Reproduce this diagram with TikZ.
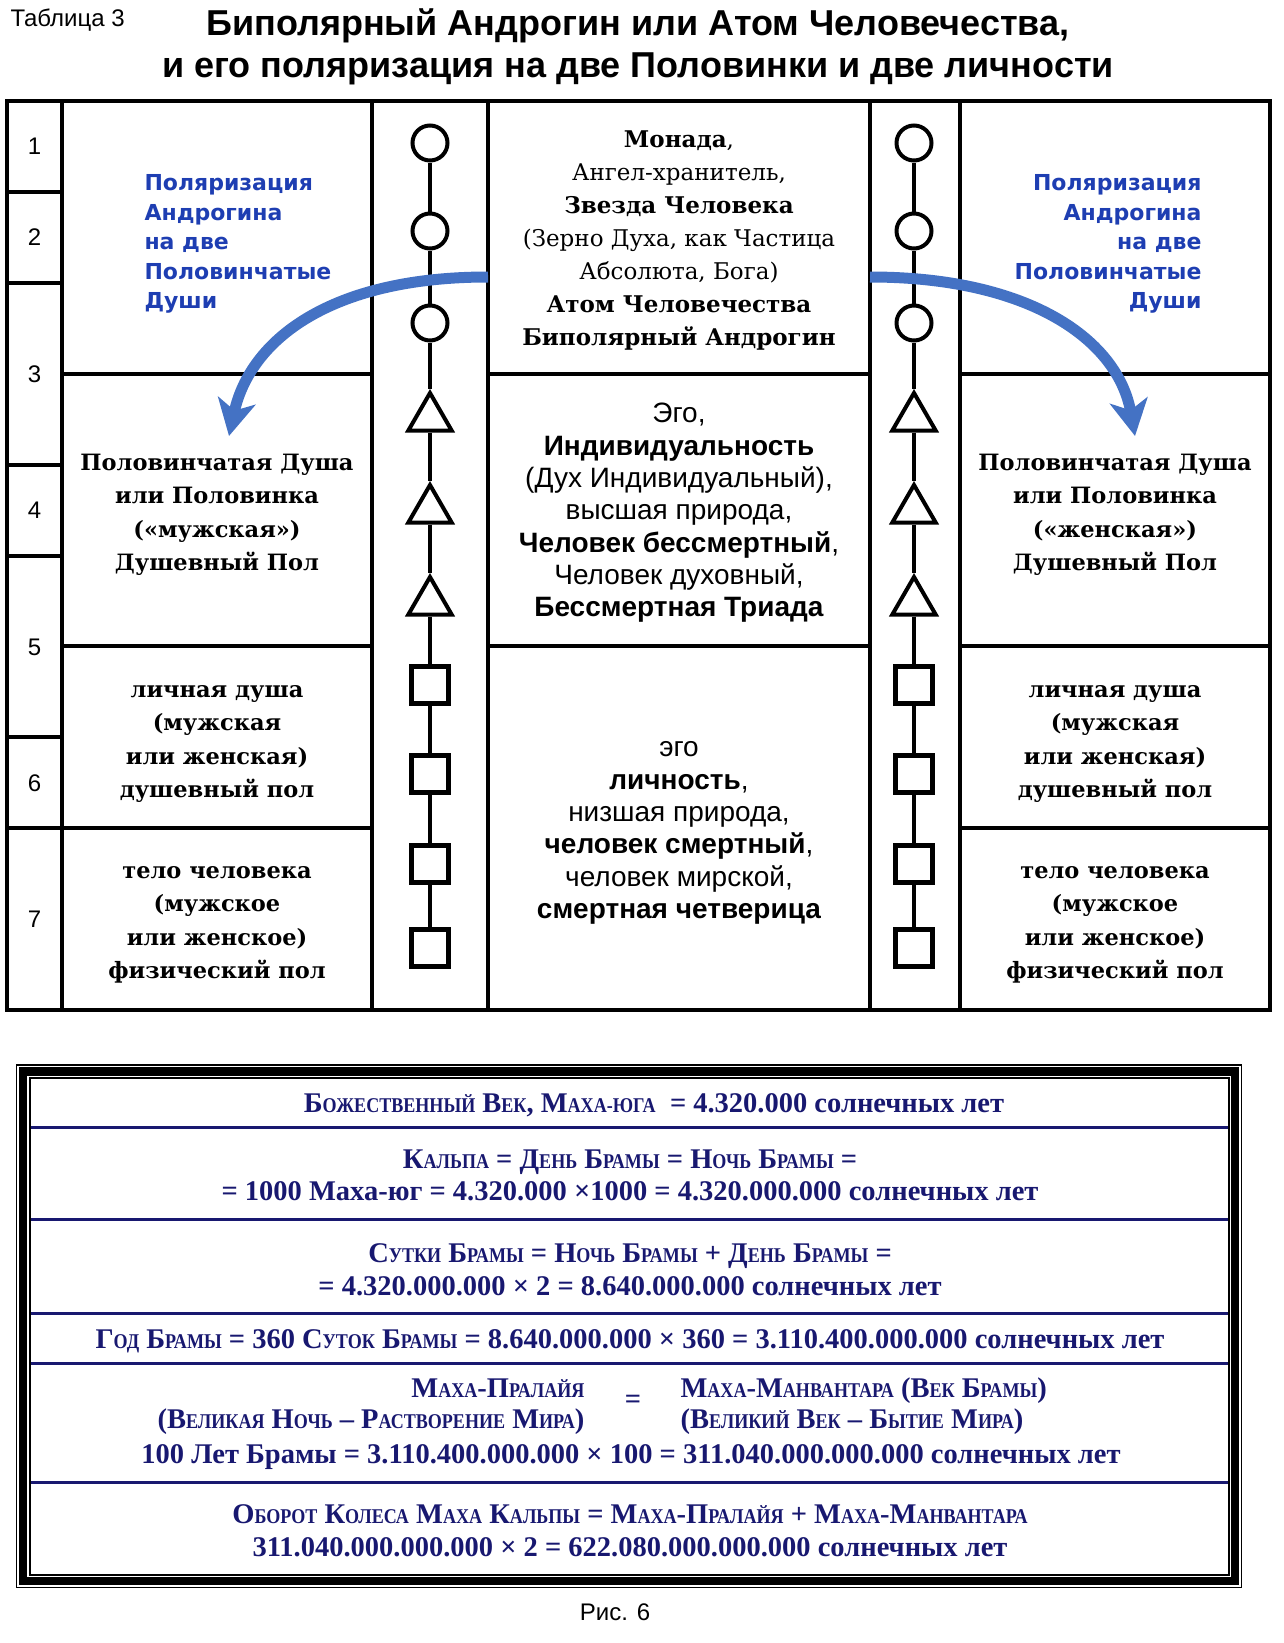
\documentclass[tikz,border=0pt]{standalone}
\usepackage{fontspec}
\setmainfont{DejaVu Serif}
\setsansfont{Liberation Sans}
\newfontfamily\verdana{DejaVu Sans}
\newfontfamily\timesf{Liberation Serif}
\newfontfamily\timesnarrow[FakeStretch=0.86]{Liberation Serif}
\usetikzlibrary{arrows.meta, shapes.geometric}
\definecolor{polblue}{RGB}{30,62,178}
\definecolor{arrblue}{RGB}{68,114,196}
\definecolor{navy}{RGB}{24,24,112}
% fake small caps for the navy box
\newcommand{\sm}[1]{{\timesnarrow\bfseries\fontsize{21}{21}\selectfont #1}}

\begin{document}
\begin{tikzpicture}[x=1pt, y=-1pt,
    tabline/.style={line width=4pt},
    num/.style={font=\sffamily\fontsize{24}{24}\selectfont},
    pol/.style={font=\verdana\bfseries\fontsize{22}{29.5}\selectfont, text=polblue},
    soul/.style={font=\bfseries\fontsize{22.5}{33.5}\selectfont, align=center},
    monad/.style={font=\fontsize{23}{33}\selectfont, align=center},
    nature/.style={font=\sffamily\fontsize{28}{32.3}\selectfont, align=center},
    circ/.style={circle, draw, line width=4pt, fill=white, minimum size=35pt, inner sep=0pt},
    tri/.style={regular polygon, regular polygon sides=3, draw, line width=4pt, fill=white, minimum size=50pt, inner sep=0pt},
    sq/.style={rectangle, draw, line width=5pt, fill=white, minimum size=37pt, inner sep=0pt},
    stem/.style={line width=4pt},
    bigarrow/.style={arrblue, line width=11pt, -{Stealth[length=36pt, width=38pt, inset=10pt]}},
    calctext/.style={font=\timesf\bfseries\fontsize{28.5}{28.5}\selectfont, text=navy, anchor=base},
    calcline/.style={navy, line width=3pt}]
  \useasboundingbox (0,0) rectangle (1283,1643);

  % heading
  \node[font=\sffamily\fontsize{24}{24}\selectfont, anchor=base west] (tab) at (7,27) {Таблица 3};
  \node[font=\sffamily\bfseries\fontsize{36}{36}\selectfont, anchor=base] (head1) at (638,36)
    {Биполярный Андрогин или Атом Человечества,};
  \node[font=\sffamily\bfseries\fontsize{36}{36}\selectfont, anchor=base] (head2) at (638,78)
    {и его поляризация на две Половинки и две личности};

  % table grid
  \draw[tabline] (7,101) rectangle (1270,1010);
  \foreach \xx in {62,372,488,870,960}
    \draw[tabline] (\xx,101) -- (\xx,1010);
  \foreach \k in {1,2,4,5,7,8}
    \draw[tabline] (7,{101+90.9*\k}) -- (62,{101+90.9*\k});
  \foreach \k in {3,6,8} {
    \draw[tabline] (62,{101+90.9*\k}) -- (372,{101+90.9*\k});
    \draw[tabline] (960,{101+90.9*\k}) -- (1270,{101+90.9*\k});
  }
  \foreach \k in {3,6}
    \draw[tabline] (488,{101+90.9*\k}) -- (870,{101+90.9*\k});

  % row numbers
  \foreach \n/\yy in {1/146,2/237,3/374,4/510,5/647,6/783,7/919}
    \node[num] (n\n) at (34.5,\yy) {\n};

  % symbol chains
  \foreach \side/\xx in {L/430, R/914} {
    \foreach \i/\yy in {1/143,2/231,3/323}
      \node[circ] (c\side\i) at (\xx,\yy) {};
    \foreach \i/\yy in {1/418,2/510,3/602}
      \node[tri] (t\side\i) at (\xx,\yy) {};
    \foreach \i/\yy in {1/685,2/774,3/864,4/948}
      \node[sq] (s\side\i) at (\xx,\yy) {};
    \draw[stem] (c\side1) -- (c\side2) -- (c\side3) -- (t\side1) -- (t\side2) -- (t\side3)
      -- (s\side1) -- (s\side2) -- (s\side3) -- (s\side4);
  }

  % side columns
  \node[pol, anchor=west, align=left] (polL) at (141,244)
    {Поляризация\\Андрогина\\на две\\Половинчатые\\Души};
  \node[pol, anchor=east, align=right] (polR) at (1205,244)
    {Поляризация\\Андрогина\\на две\\Половинчатые\\Души};
  \node[soul] (halfL) at (217,515) {Половинчатая Душа\\или Половинка\\(«мужская»)\\Душевный Пол};
  \node[soul] (halfR) at (1115,515) {Половинчатая Душа\\или Половинка\\(«женская»)\\Душевный Пол};
  \node[soul] (persL) at (217,744) {личная душа\\(мужская\\или женская)\\душевный пол};
  \node[soul] (persR) at (1115,744) {личная душа\\(мужская\\или женская)\\душевный пол};
  \node[soul] (bodyL) at (217,925) {тело человека\\(мужское\\или женское)\\физический пол};
  \node[soul] (bodyR) at (1115,925) {тело человека\\(мужское\\или женское)\\физический пол};

  % centre column
  \node[monad] (monada) at (679,241) {\textbf{Монада},\\Ангел-хранитель,\\\textbf{Звезда Человека}\\
    (Зерно Духа, как Частица\\Абсолюта, Бога)\\\textbf{Атом Человечества}\\\textbf{Биполярный Андрогин}};
  \node[nature] (ego) at (679,513) {Эго,\\\textbf{Индивидуальность}\\(Дух Индивидуальный),\\высшая природа,\\
    \textbf{Человек бессмертный},\\Человек духовный,\\\textbf{Бессмертная Триада}};
  \node[nature] (lowego) at (679,833) {эго\\\textbf{личность},\\низшая природа,\\
    \textbf{человек смертный},\\человек мирской,\\\textbf{смертная четверица}};

  % polarisation arrows
  \coordinate (srcL) at (488,277);
  \coordinate (tipL) at (229,436);
  \coordinate (srcR) at (870,277);
  \coordinate (tipR) at (1135,436);
  \draw[bigarrow] (srcL) .. controls (330,277) and (250,340) .. (tipL);
  \draw[bigarrow] (srcR) .. controls (1030,277) and (1118,340) .. (tipR);

  % navy box
  \draw[line width=1.2pt] (16.5,1065) rectangle (1241.5,1587.5);
  \draw[line width=8.5pt] (22.8,1071.3) rectangle (1235.2,1581.2);
  \draw[line width=2pt] (29.5,1078) rectangle (1228.5,1574.5);
  \foreach \yy in {1127,1219,1313,1363,1482}
    \draw[calcline] (30.5,\yy) -- (1227.5,\yy);

  \node[calctext] (vek) at (654,1112) {Б\sm{ОЖЕСТВЕННЫЙ} В\sm{ЕК}, М\sm{АХА-ЮГА}\ \ = 4.320.000 солнечных лет};
  \node[calctext] (kalpa1) at (630,1168) {К\sm{АЛЬПА} = Д\sm{ЕНЬ} Б\sm{РАМЫ} = Н\sm{ОЧЬ} Б\sm{РАМЫ} =};
  \node[calctext] (kalpa2) at (630,1200) {= 1000 Маха-юг = 4.320.000 ×1000 = 4.320.000.000 солнечных лет};
  \node[calctext] (sutki1) at (630,1262) {С\sm{УТКИ} Б\sm{РАМЫ} = Н\sm{ОЧЬ} Б\sm{РАМЫ} + Д\sm{ЕНЬ} Б\sm{РАМЫ} =};
  \node[calctext] (sutki2) at (630,1295) {= 4.320.000.000 × 2 = 8.640.000.000 солнечных лет};
  \node[calctext] (god) at (630,1348) {Г\sm{ОД} Б\sm{РАМЫ} = 360 С\sm{УТОК} Б\sm{РАМЫ} = 8.640.000.000 × 360 = 3.110.400.000.000 солнечных лет};
  \node[calctext, anchor=base east] (praly1) at (588,1397) {М\sm{АХА}-П\sm{РАЛАЙЯ}};
  \node[calctext, anchor=base east] (praly2) at (588,1428) {(В\sm{ЕЛИКАЯ} Н\sm{ОЧЬ} – Р\sm{АСТВОРЕНИЕ} М\sm{ИРА})};
  \node[calctext, anchor=center] (eq) at (633,1402) {=};
  \node[calctext, anchor=base west] (manv1) at (677,1397) {М\sm{АХА}-М\sm{АНВАНТАРА} (В\sm{ЕК} Б\sm{РАМЫ})};
  \node[calctext, anchor=base west] (manv2) at (677,1428) {(В\sm{ЕЛИКИЙ} В\sm{ЕК} – Б\sm{ЫТИЕ} М\sm{ИРА})};
  \node[calctext] (sto) at (631,1463) {100 Лет Брамы = 3.110.400.000.000 × 100 = 311.040.000.000.000 солнечных лет};
  \node[calctext] (oborot1) at (630,1523) {О\sm{БОРОТ} К\sm{ОЛЕСА} М\sm{АХА} К\sm{АЛЬПЫ} = М\sm{АХА}-П\sm{РАЛАЙЯ} + М\sm{АХА}-М\sm{АНВАНТАРА}};
  \node[calctext] (oborot2) at (630,1556) {311.040.000.000.000 × 2 = 622.080.000.000.000 солнечных лет};

  \node[font=\sffamily\fontsize{24}{24}\selectfont, anchor=base] (fig) at (615,1620) {Рис. 6};
\end{tikzpicture}
\end{document}
